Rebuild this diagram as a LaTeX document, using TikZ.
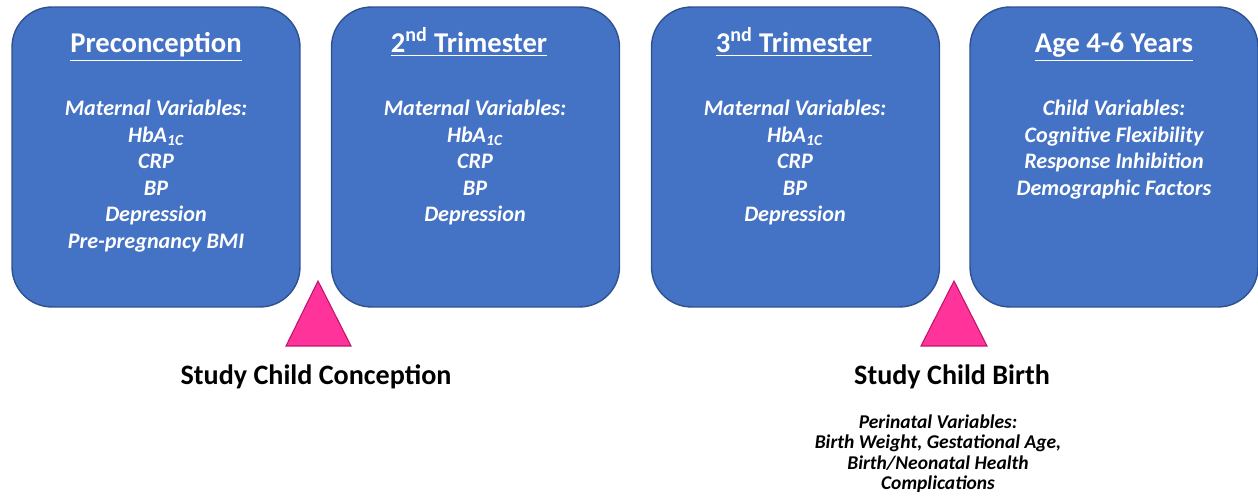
\documentclass[tikz,border=0pt]{standalone}
\usepackage{fontspec}
\setmainfont{Carlito}
\definecolor{boxblue}{RGB}{68, 114, 196}
\definecolor{edgeblue}{RGB}{47, 82, 143}
\definecolor{markpink}{RGB}{255, 51, 153}
\definecolor{markedge}{RGB}{190, 20, 110}
\usetikzlibrary{positioning}

\begin{document}
\begin{tikzpicture}[x=0.02cm, y=-0.02cm,
  stage/.style={draw=edgeblue, fill=boxblue, rounded corners=0.8cm, line width=0.8pt,
    minimum width=5.76cm, minimum height=6cm, inner sep=0pt},
  stagetitle/.style={text=white, font=\fontsize{16.3}{19}\selectfont\bfseries, anchor=base, inner sep=0pt},
  vars/.style={text=white, font=\fontsize{12.6}{15.1}\selectfont\bfseries\itshape, align=center, anchor=north, inner sep=0pt},
  event/.style={font=\fontsize{16}{19}\selectfont\bfseries, anchor=base, inner sep=0pt},
  perinatal/.style={font=\fontsize{11.1}{11.7}\selectfont\bfseries\itshape, align=center, anchor=north, inner sep=0pt}]
  \useasboundingbox (0,0) rectangle (1258,499);

  % Time points
  \node[stage] (pre) at (156,157) {};
  \node[stage] (tri2) at (475.5,157) {};
  \node[stage] (tri3) at (795.5,157) {};
  \node[stage] (age) at (1114,157) {};

  % Titles
  \node[stagetitle] (pretitle) at (156,53) {\underline{Preconception}};
  \node[stagetitle] (tri2title) at (469,53) {\underline{2\textsuperscript{nd} Trimester}};
  \node[stagetitle] (tri3title) at (794,53) {\underline{3\textsuperscript{nd} Trimester}};
  \node[stagetitle] (agetitle) at (1114,53) {\underline{Age 4-6 Years}};

  % Variables
  \node[vars] (prevars) at (156,100) {Maternal Variables:\\HbA\textsubscript{1C}\\CRP\\BP\\Depression\\Pre-pregnancy BMI};
  \node[vars] (tri2vars) at (475,100) {Maternal Variables:\\HbA\textsubscript{1C}\\CRP\\BP\\Depression};
  \node[vars] (tri3vars) at (795,100) {Maternal Variables:\\HbA\textsubscript{1C}\\CRP\\BP\\Depression};
  \node[vars] (agevars) at (1114,100) {Child Variables:\\Cognitive Flexibility\\Response Inhibition\\Demographic Factors};

  % Event markers
  \draw[fill=markpink, draw=markedge, line width=0.6pt] (318,281) -- (351,346) -- (286,346) -- cycle;
  \draw[fill=markpink, draw=markedge, line width=0.6pt] (954,281) -- (987,346) -- (921,346) -- cycle;

  \node[event] (conception) at (316,385) {Study Child Conception};
  \node[event] (birth) at (952,385) {Study Child Birth};
  \node[perinatal] (perivars) at (938,414) {Perinatal Variables:\\Birth Weight, Gestational Age,\\Birth/Neonatal Health\\Complications};
\end{tikzpicture}
\end{document}
